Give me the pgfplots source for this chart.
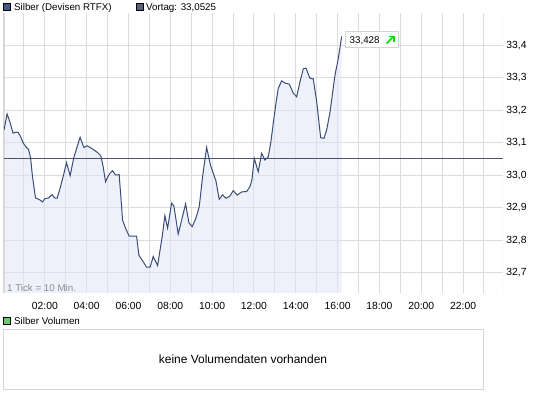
\documentclass[border=0pt]{standalone}
\usepackage{pgfplots}
\usepackage{pgfplotstable}
\pgfplotsset{compat=1.18}
\usepackage{fontspec}
\setmainfont{Liberation Sans}
\definecolor{linecol}{HTML}{3A4C78}
\definecolor{fillcol}{HTML}{DEE4F6}
\definecolor{gridcol}{HTML}{DCDCDC}
\definecolor{vortag}{HTML}{4B5368}
\definecolor{sq1}{HTML}{3F5B8C}
\definecolor{sq2}{HTML}{58627C}
\definecolor{sq3}{HTML}{66CC66}
\definecolor{boxcol}{HTML}{D4D4D4}
\definecolor{arrowgreen}{HTML}{00DD00}

\pgfplotstableread{
h v
0.05 33.140
0.196 33.189
0.325 33.165
0.483 33.130
0.612 33.133
0.722 33.132
0.837 33.120
0.962 33.100
1.091 33.088
1.220 33.080
1.316 33.055
1.411 32.996
1.555 32.930
1.727 32.926
1.890 32.918
2.000 32.928
2.158 32.930
2.349 32.940
2.478 32.930
2.589 32.930
2.718 32.957
2.876 32.996
3.038 33.039
3.211 32.999
3.388 33.055
3.545 33.088
3.689 33.117
3.866 33.086
4.024 33.091
4.105 33.088
4.311 33.080
4.522 33.070
4.679 33.060
4.789 33.027
4.904 32.980
5.000 32.994
5.110 33.006
5.239 33.014
5.383 33.001
5.555 33.002
5.636 32.934
5.718 32.862
5.861 32.837
6.033 32.813
6.388 32.813
6.498 32.754
6.703 32.734
6.866 32.717
7.038 32.717
7.182 32.750
7.392 32.722
7.612 32.811
7.742 32.876
7.871 32.837
8.062 32.914
8.172 32.906
8.378 32.819
8.732 32.912
8.890 32.854
9.048 32.842
9.225 32.868
9.383 32.903
9.545 32.996
9.737 33.086
9.928 33.030
10.182 32.983
10.340 32.926
10.502 32.940
10.660 32.929
10.852 32.936
11.010 32.953
11.201 32.939
11.411 32.949
11.651 32.950
11.809 32.965
11.904 32.986
12.014 33.052
12.206 33.011
12.368 33.068
12.526 33.047
12.684 33.057
12.813 33.104
12.923 33.160
13.053 33.222
13.163 33.268
13.325 33.291
13.483 33.284
13.689 33.281
13.880 33.253
14.043 33.242
14.201 33.288
14.359 33.328
14.488 33.330
14.679 33.299
14.837 33.297
15.000 33.227
15.191 33.116
15.349 33.114
15.478 33.140
15.636 33.194
15.876 33.309
16.033 33.360
16.196 33.428
}\silber

\begin{document}
\fontsize{9.8}{11}\selectfont
\begin{tikzpicture}
\path[use as bounding box] (0,0) rectangle (545bp,-398bp);
% top legend
\filldraw[fill=sq1, draw=black, line width=0.8bp] (3bp,-3bp) rectangle (10bp,-10bp);
\node[anchor=base west, inner sep=0pt] at (14bp,-10.5bp) {Silber (Devisen RTFX)};
\filldraw[fill=sq2, draw=black, line width=0.8bp] (136.5bp,-3bp) rectangle (143.5bp,-10bp);
\node[anchor=base west, inner sep=0pt] at (146bp,-10.5bp) {Vortag: 33,0525};

\begin{axis}[
  at={(3bp,-13bp)}, anchor=north west,
  scale only axis, width=500bp, height=280bp,
  xmin=0, xmax=23.91, ymin=32.6375, ymax=33.5,
  xtick={2,4,6,8,10,12,14,16,18,20,22},
  xticklabels={02:00,04:00,06:00,08:00,10:00,12:00,14:00,16:00,18:00,20:00,22:00},
  minor xtick={1,3,5,7,9,11,13,15,17,19,21,23},
  ytick={32.7,32.8,32.9,33.0,33.1,33.2,33.3,33.4},
  yticklabel pos=right,
  grid=both,
  major grid style={gridcol, line width=1bp},
  minor grid style={gridcol, line width=1bp},
  major tick length=0pt, minor tick length=0pt,
  axis line style={draw=none},
  tick label style={font=\fontsize{10.4}{12}\selectfont, black},
  xticklabel style={yshift=-6bp},
  yticklabel style={/pgf/number format/.cd, use comma, fixed, fixed zerofill, precision=1, assume math mode=true},
  clip=true,
]
\addplot[fill=fillcol, fill opacity=0.5, draw=none] table[x=h, y=v] {\silber} \closedcycle;
\addplot[draw=gridcol, line width=1bp] coordinates {(0.09,32.6375) (0.09,33.5)};
\addplot[vortag, line width=1bp] coordinates {(0,33.0525) (23.91,33.0525)};
\addplot[linecol, line width=1bp] table[x=h, y=v] {\silber};
\draw[boxcol, line width=1bp] (rel axis cs:0,0) -- (rel axis cs:1,0) -- (rel axis cs:1,1);
\draw[boxcol, line width=1bp] (rel axis cs:0,0) -- (rel axis cs:0,1);
\end{axis}

% current value box
\filldraw[fill=white, draw=boxcol, line width=1bp] (345.5bp,-31bp) rectangle (398bp,-47.5bp);
\node[anchor=base west, inner sep=0pt] at (349.5bp,-43bp) {33,428};
\draw[arrowgreen, line width=1.6bp] (386.5bp,-43.5bp) -- (393.5bp,-36.5bp);
\draw[arrowgreen, line width=1.4bp] (388.5bp,-36.3bp) -- (393.8bp,-36.3bp) -- (393.8bp,-41.6bp);

% tick note
\node[anchor=base west, inner sep=0pt, text=black!45] at (7bp,-291bp) {1 Tick = 10 Min.};

% bottom panel
\filldraw[fill=sq3, draw=black, line width=0.8bp] (3.5bp,-317bp) rectangle (10.5bp,-324bp);
\node[anchor=base west, inner sep=0pt] at (14bp,-324.8bp) {Silber Volumen};
\draw[boxcol, line width=1bp] (3bp,-329.5bp) rectangle (483bp,-389bp);
\node[inner sep=0pt, font=\fontsize{12}{14}\selectfont] at (243bp,-359.5bp) {keine Volumendaten vorhanden};
\end{tikzpicture}
\end{document}
